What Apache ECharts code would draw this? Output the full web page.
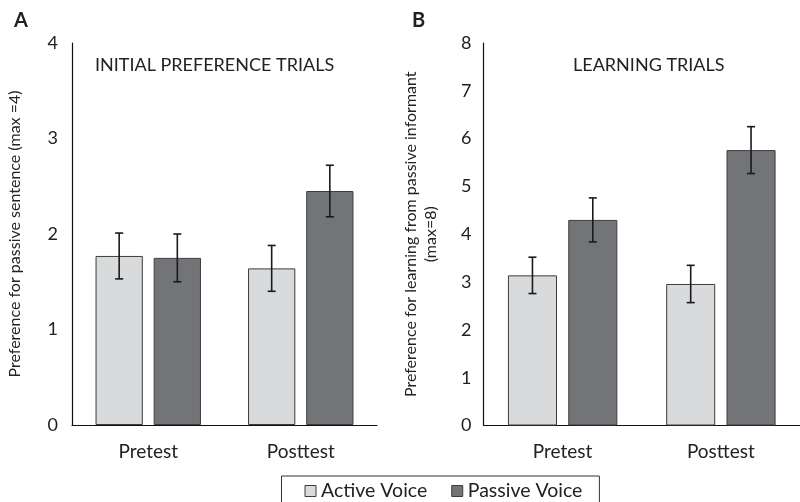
<!DOCTYPE html>
<html>
<head>
<meta charset="utf-8">
<script src="https://cdn.jsdelivr.net/npm/echarts@6/dist/echarts.min.js"></script>
<style>html,body{margin:0;padding:0;background:#fff}#c{width:800px;height:502px}</style>
</head>
<body>
<div id="c"></div>
<script>
var categories = ['Pretest', 'Posttest'];
var seriesNames = ['Active Voice', 'Passive Voice'];
var initActive = [1.77, 1.64];
var initActiveErr = [0.24, 0.24];
var initPassive = [1.75, 2.45];
var initPassiveErr = [0.25, 0.27];
var learnActive = [3.14, 2.96];
var learnActiveErr = [0.38, 0.39];
var learnPassive = [4.30, 5.76];
var learnPassiveErr = [0.46, 0.49];

var FONT = 'Lato';
var TXT = '#222';
var BAR_W = 0.31, BAR_GAP = 0.23;
var C_ACT = '#d9dadc', C_PAS = '#737477', C_BORDER = '#3c3c3c';

function errData(vals, errs) { return categories.map(function (c, i) { return [i, vals[i], errs[i]]; }); }
function errRender(side) {
  return function (params, api) {
    var i = api.value(0), v = api.value(1), e = api.value(2);
    var band = api.size([1, 0])[0];
    var w = band * BAR_W, g = w * BAR_GAP;
    var off = side * (w + g) / 2;
    var x = api.coord([i, v])[0] + off;
    var hi = api.coord([i, v + e])[1];
    var lo = api.coord([i, v - e])[1];
    var st = { stroke: '#1a1a1a', lineWidth: 1.6 };
    var cw = 4;
    return { type: 'group', children: [
      { type: 'line', shape: { x1: x, y1: hi, x2: x, y2: lo }, style: st },
      { type: 'line', shape: { x1: x - cw, y1: hi, x2: x + cw, y2: hi }, style: st },
      { type: 'line', shape: { x1: x - cw, y1: lo, x2: x + cw, y2: lo }, style: st }
    ]};
  };
}
function bar(name, data, color, idx) {
  return { name: name, type: 'bar', xAxisIndex: idx, yAxisIndex: idx, data: data,
    barWidth: (BAR_W * 100) + '%', barGap: (BAR_GAP * 100) + '%',
    itemStyle: { color: color, borderColor: C_BORDER, borderWidth: 1 }, z: 2 };
}
function err(vals, errs, side, idx) {
  return { type: 'custom', xAxisIndex: idx, yAxisIndex: idx, data: errData(vals, errs),
    encode: { x: 0, y: 1 }, renderItem: errRender(side), z: 5, silent: true };
}
function xAx(idx) {
  return { type: 'category', gridIndex: idx, data: categories,
    axisLine: { lineStyle: { color: '#111', width: 1.2 } }, axisTick: { show: false },
    axisLabel: { color: TXT, fontSize: 19, fontFamily: FONT, margin: 17 } };
}
function yAx(idx, max, name, gap) {
  return { type: 'value', gridIndex: idx, min: 0, max: max, interval: 1,
    splitLine: { show: false }, axisTick: { show: false },
    axisLine: { show: true, lineStyle: { color: '#111', width: 1.2 } },
    axisLabel: { color: TXT, fontSize: 18, fontFamily: FONT, margin: idx === 0 ? 14 : 12 },
    name: name, nameLocation: 'middle', nameGap: gap, nameRotate: 90,
    nameTextStyle: { color: TXT, fontSize: 16, fontFamily: FONT, lineHeight: 20 } };
}

var chart = echarts.init(document.getElementById('c'), null, { renderer: 'canvas' });
chart.setOption({
  animation: false,
  backgroundColor: '#fff',
  title: [
    { text: 'A', left: 9, top: 6, textStyle: { fontSize: 20, fontWeight: 'bold', color: TXT, fontFamily: FONT } },
    { text: 'B', left: 407, top: 6, textStyle: { fontSize: 20, fontWeight: 'bold', color: TXT, fontFamily: FONT } },
    { text: 'INITIAL PREFERENCE TRIALS', left: 90, top: 51, textStyle: { fontSize: 18, fontWeight: 'normal', color: TXT, fontFamily: FONT } },
    { text: 'LEARNING TRIALS', left: 568, top: 51, textStyle: { fontSize: 18, fontWeight: 'normal', color: TXT, fontFamily: FONT } }
  ],
  grid: [
    { left: 72, top: 43, width: 305, height: 382 },
    { left: 483.5, top: 43, width: 325, height: 382.5 }
  ],
  xAxis: [xAx(0), xAx(1)],
  yAxis: [
    yAx(0, 4, 'Preference for passive sentence (max =4)', 47),
    yAx(1, 8, 'Preference for learning from passive informant\n(max=8)', 43)
  ],
  legend: {
    data: seriesNames, left: 281.5, top: 476, orient: 'horizontal',
    borderColor: '#333', borderWidth: 1, padding: [5, 17, 20, 23],
    itemWidth: 11, itemHeight: 11, itemGap: 24, itemTextGap: 5, icon: 'rect',
    itemStyle: { borderColor: C_BORDER, borderWidth: 1 },
    textStyle: { color: TXT, fontSize: 19.5, fontFamily: FONT }
  },
  series: [
    bar(seriesNames[0], initActive, C_ACT, 0),
    bar(seriesNames[1], initPassive, C_PAS, 0),
    bar(seriesNames[0], learnActive, C_ACT, 1),
    bar(seriesNames[1], learnPassive, C_PAS, 1),
    err(initActive, initActiveErr, -1, 0),
    err(initPassive, initPassiveErr, 1, 0),
    err(learnActive, learnActiveErr, -1, 1),
    err(learnPassive, learnPassiveErr, 1, 1)
  ]
});
</script>
</body>
</html>
